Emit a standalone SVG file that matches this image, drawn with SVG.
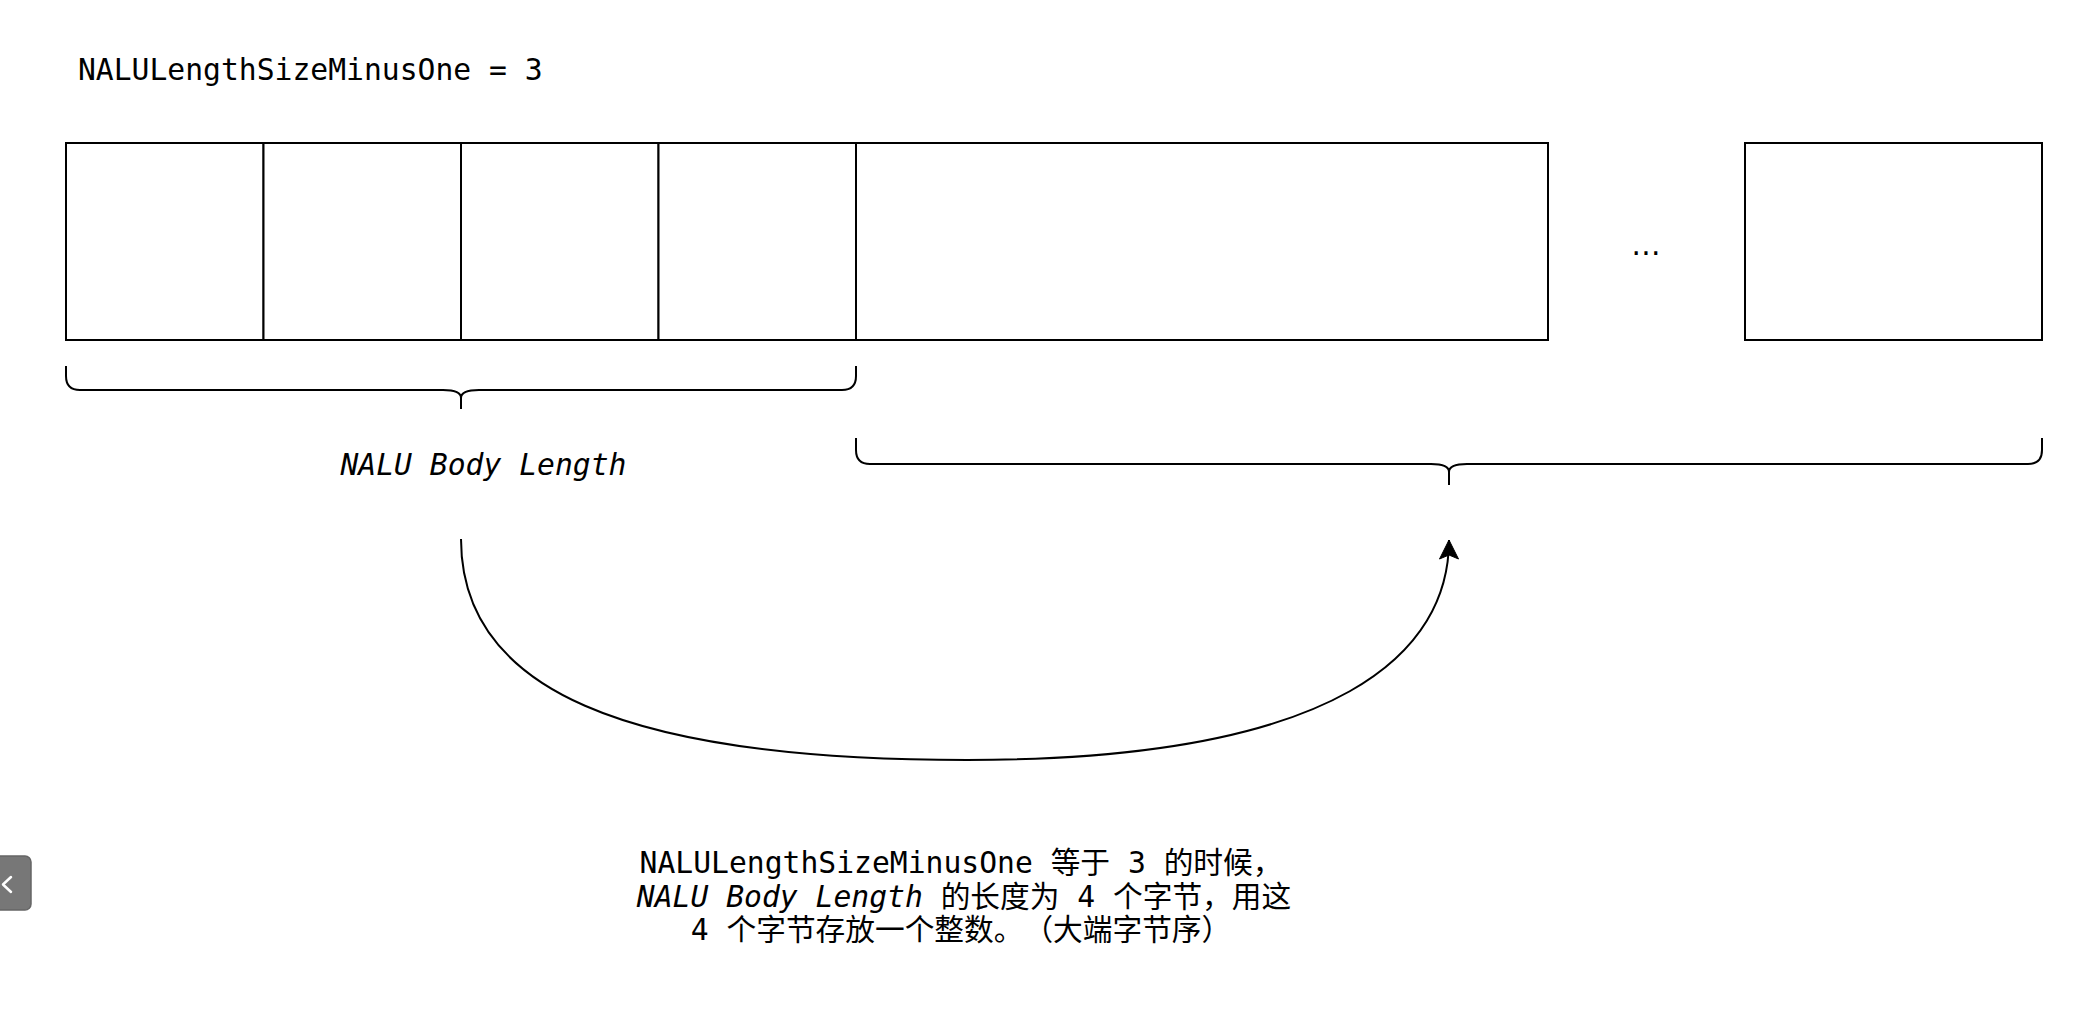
<svg xmlns="http://www.w3.org/2000/svg" width="2096" height="1022" viewBox="0 0 2096 1022">
  <style>
    .box { fill: #ffffff; stroke: #000000; stroke-width: 2; }
    .brace { fill: none; stroke: #000000; stroke-width: 2; }
    .conn { fill: none; stroke: #000000; stroke-width: 2; }
    .mono { font-family: "DejaVu Sans Mono", "Noto Sans CJK SC", monospace; font-size: 29.7px; fill: #000000; text-spacing-trim: space-all; }
    .it { font-style: italic; }
  </style>
  <defs>
    <marker id="arrow" markerUnits="userSpaceOnUse" orient="auto" markerWidth="30" markerHeight="24" refX="0" refY="0" viewBox="-24 -12 30 24" overflow="visible">
      <path d="M0,0 L-19,-9.5 L-15,0 L-19,9.5 Z" fill="#000000" stroke="#000000" stroke-width="1" stroke-linejoin="miter"/>
    </marker>
  </defs>
  <rect x="0" y="0" width="2096" height="1022" fill="#ffffff"/>

  <g id="title">
    <text class="mono" x="78" y="80">NALULengthSizeMinusOne = 3</text>
  </g>

  <g id="byte1"><rect class="box" x="66" y="143" width="197.5" height="197"/></g>
  <g id="byte2"><rect class="box" x="263.5" y="143" width="197.5" height="197"/></g>
  <g id="byte3"><rect class="box" x="461" y="143" width="197.5" height="197"/></g>
  <g id="byte4"><rect class="box" x="658.5" y="143" width="197.5" height="197"/></g>
  <g id="body"><rect class="box" x="856" y="143" width="692" height="197"/></g>
  <g id="ellipsis"><text x="1646" y="255" text-anchor="middle" style="font-family: 'DejaVu Sans', sans-serif; font-size: 29.4px; fill:#000;">…</text></g>
  <g id="last"><rect class="box" x="1745" y="143" width="297" height="197"/></g>

  <g id="brace-length">
    <path class="brace" d="M66,366 L66,376 Q66,390 80,390 L443,390 Q461,390 461,398 L461,409 M461,398 Q461,390 479,390 L842,390 Q856,390 856,376 L856,366"/>
  </g>
  <g id="label-length">
    <text class="mono it" x="483.5" y="475" text-anchor="middle">NALU Body Length</text>
  </g>
  <g id="brace-body">
    <path class="brace" d="M856,438 L856,450 Q856,464 870,464 L1431,464 Q1449,464 1449,472 L1449,485 M1449,472 Q1449,464 1467,464 L2028,464 Q2042,464 2042,450 L2042,438"/>
  </g>

  <g id="connectors">
    <path class="conn" d="M461,539 C461,689 623,760 967,760 C1345,760 1449,650 1449,540" marker-end="url(#arrow)"/>
  </g>

  <g id="note">
    <text class="mono" x="961" y="873" text-anchor="middle">NALULengthSizeMinusOne 等于 3 的时候，</text>
    <text class="mono" x="964" y="906.5" text-anchor="middle"><tspan class="it">NALU Body Length</tspan> 的长度为 4 个字节，用这</text>
    <text class="mono" x="961" y="940" text-anchor="middle">4 个字节存放一个整数。（大端字节序）</text>
  </g>

  <g id="side-button">
    <rect x="-6" y="856" width="37" height="54" rx="6" ry="6" fill="#777777" stroke="#666666" stroke-width="1.5"/>
    <polyline points="11,877 3,884.5 11,892" fill="none" stroke="#ffffff" stroke-width="2.5" stroke-linecap="round" stroke-linejoin="round"/>
  </g>
</svg>
